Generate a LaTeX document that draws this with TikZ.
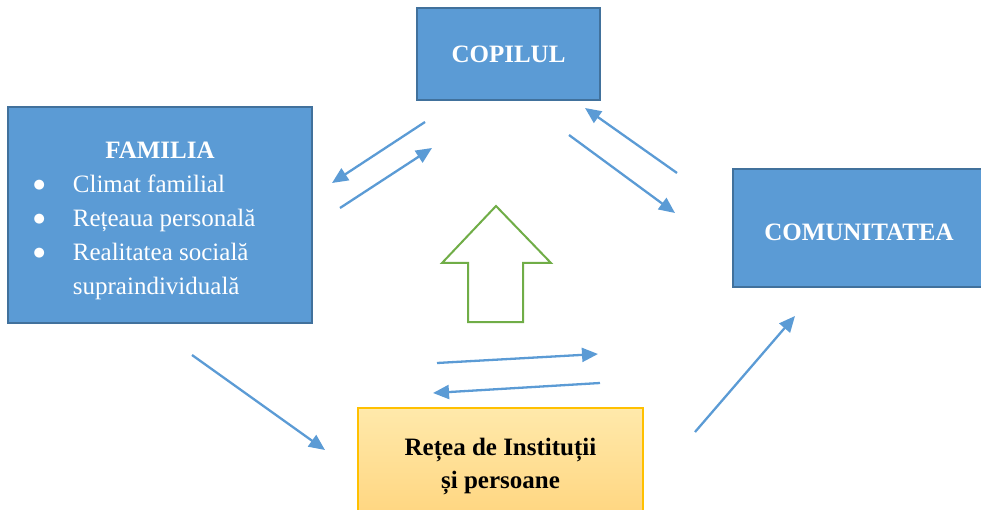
\documentclass[tikz,border=0pt]{standalone}
\usepackage{fontspec}
\setmainfont{Liberation Serif}
\newfontfamily\dotfont{DejaVu Sans}
\usetikzlibrary{arrows.meta}
\definecolor{boxblue}{HTML}{5B9BD5}
\definecolor{boxline}{HTML}{41719C}
\definecolor{upgreen}{HTML}{70AD47}
\definecolor{netline}{HTML}{FFC000}
\definecolor{nettop}{HTML}{FFE9AB}
\definecolor{netbottom}{HTML}{FFD47C}
\newcommand{\famdot}{\raisebox{4pt}{\dotfont\fontsize{13}{13}\selectfont ●}}
\tikzset{
  bluebox/.style={draw=boxline, line width=2pt, fill=boxblue, text=white,
    font=\fontsize{25}{34}\selectfont, inner sep=0pt},
  netbox/.style={draw=netline, line width=1.5pt, top color=nettop, bottom color=netbottom,
    font=\fontsize{25}{33}\selectfont\bfseries, align=center, inner sep=0pt},
  link/.style={draw=boxblue, line width=2.3pt, -{Triangle[length=16pt,width=14pt]}},
}
\begin{document}
\begin{tikzpicture}[x=1pt, y=-1pt]
 \useasboundingbox (0,0) rectangle (981,510);
 \node [bluebox, minimum width=183pt, minimum height=92pt] (copil) at (508.5,54) {\textbf{COPILUL}};
 \node [bluebox, minimum width=304pt, minimum height=216pt] (familia) at (160,215) {%
  \begin{tabular}{@{}l@{\hspace{28pt}}l@{\hspace{31pt}}}
   \multicolumn{2}{c}{\rule{0pt}{32.8pt}\textbf{FAMILIA}}\\
   \famdot & Climat familial\\
   \famdot & Rețeaua personală\\
   \famdot & Realitatea socială\\
   & supraindividuală
  \end{tabular}};
 \node [bluebox, minimum width=252pt, minimum height=118pt, text height=24.5pt] (comunitate) at (859,228) {\textbf{COMUNITATEA}};
 \node [netbox, minimum width=285pt, minimum height=118pt] (retea) at (500.5,467) {Rețea de Instituții\\și persoane};
 \coordinate (cf-from) at (425,122);
 \coordinate (cf-to) at (332,183);
 \coordinate (fc-from) at (340,208);
 \coordinate (fc-to) at (432,148);
 \coordinate (mc-from) at (677,173);
 \coordinate (mc-to) at (585,108);
 \coordinate (cm-from) at (569,135);
 \coordinate (cm-to) at (675,213);
 \coordinate (fr-from) at (192,355);
 \coordinate (fr-to) at (325,450);
 \coordinate (rm-from) at (695,432);
 \coordinate (rm-to) at (795,316);
 \coordinate (out-from) at (437,363);
 \coordinate (out-to) at (598,354);
 \coordinate (in-from) at (600,383);
 \coordinate (in-to) at (433,393);
 \draw [link] (cf-from) -- (cf-to);
 \draw [link] (fc-from) -- (fc-to);
 \draw [link] (mc-from) -- (mc-to);
 \draw [link] (cm-from) -- (cm-to);
 \draw [link] (fr-from) -- (fr-to);
 \draw [link] (rm-from) -- (rm-to);
 \draw [link] (out-from) -- (out-to);
 \draw [link] (in-from) -- (in-to);
 \draw [upgreen, line width=2pt, fill=white, line join=miter]
  (496,206) -- (551,263) -- (523,263) -- (523,322) -- (468,322) -- (468,263) -- (442,263) -- cycle;
\end{tikzpicture}
\end{document}
